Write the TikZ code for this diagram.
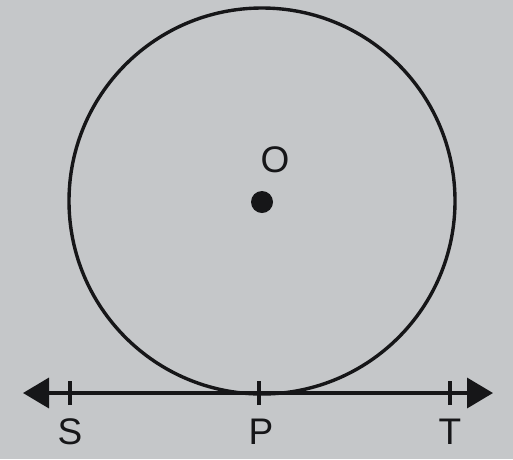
\documentclass[tikz,border=0pt]{standalone}
\usepackage{fontspec}
\setmainfont{Liberation Sans}
\usetikzlibrary{arrows.meta,positioning}
\definecolor{paper}{RGB}{197,199,201}
\definecolor{ink}{RGB}{22,22,24}

\begin{document}
\begin{tikzpicture}[x=1pt,y=-1pt,>={Triangle[length=26pt,width=30pt]},line width=3.6pt]
\fill[paper] (0,0) rectangle (513,459);
\useasboundingbox (0,0) rectangle (513,459);
\node[circle,draw=ink,minimum size=386pt,inner sep=0pt,line width=3.4pt] (circ) at (262,201) {};
\node[circle,fill=ink,minimum size=22pt,inner sep=0pt] (O) at (262,202) {};
\coordinate (left) at (23,393);
\coordinate (right) at (493,393);
\coordinate (S) at (70,393);
\coordinate (P) at (259,393);
\coordinate (T) at (450,393);
\draw[<->,ink] (left) -- (right);
\foreach \p in {S,P,T}
  \draw[ink,line width=3.4pt] ([yshift=-12pt]\p) -- ([yshift=12pt]\p);
\node[font=\fontsize{37}{37}\selectfont,text=ink] (labO) at (275,160) {O};
\node[font=\fontsize{37}{37}\selectfont,text=ink] (labS) at (70,432) {S};
\node[font=\fontsize{37}{37}\selectfont,text=ink] (labP) at (261,432) {P};
\node[font=\fontsize{37}{37}\selectfont,text=ink] (labT) at (450,432) {T};
\end{tikzpicture}
\end{document}
